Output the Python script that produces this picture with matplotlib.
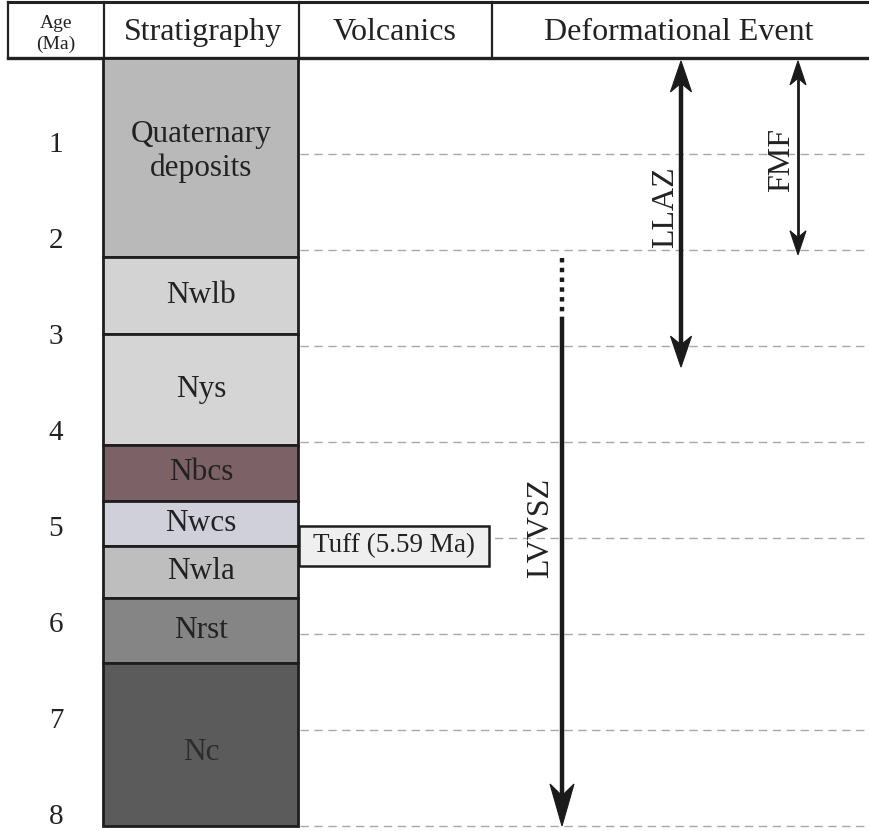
import matplotlib
matplotlib.use("Agg")
import matplotlib.pyplot as plt
from matplotlib.patches import Polygon, Rectangle

plt.rcParams["font.family"] = ["Liberation Serif", "DejaVu Serif"]

# age axis ticks (Ma)
age_ticks = [1, 2, 3, 4, 5, 6, 7, 8]

# stratigraphic units, top and base ages (Ma)
units = ["Quaternary\ndeposits", "Nwlb", "Nys", "Nbcs", "Nwcs", "Nwla", "Nrst", "Nc"]
unit_top = [0.00, 2.07, 2.87, 4.03, 4.61, 5.08, 5.62, 6.30]
unit_base = [2.07, 2.87, 4.03, 4.61, 5.08, 5.62, 6.30, 8.00]
unit_colors = ["#b9b9b9", "#d3d3d3", "#d5d5d5", "#7c6267", "#cfd0da",
               "#bebebe", "#858585", "#5b5b5b"]

# volcanics
tuff_label = "Tuff (5.59 Ma)"
tuff_top, tuff_base = 4.875, 5.29

# deformational events: name, start, end (Ma)
events = ["LLAZ", "FMF", "LVVSZ"]
event_start = [0.03, 0.03, 2.72]
event_end = [3.22, 2.05, 8.00]
lvvsz_dotted = (2.08, 2.72)

# layout (pixels across, Ma down)
W, H = 870, 831
y0, ppm = 58.0, 96.0  # pixel row of age 0, pixels per Ma


def px_to_age(p):
    return (p - y0) / ppm


fig = plt.figure(figsize=(W / 100, H / 100), dpi=100)
ax = fig.add_axes([0, 0, 1, 1])
ax.set_xlim(0, W)
ax.set_ylim(px_to_age(H), px_to_age(0))
ax.axis("off")

txt = "#222222"

# header
h_top, h_bot = px_to_age(2.5), 0.0
col_x = [8, 104, 299, 492, W]
ax.plot([8, W], [h_top, h_top], color="#222", lw=2.2)
ax.plot([8, W], [h_bot, h_bot], color="#222", lw=2.4)
for x in col_x[:-1]:
    ax.plot([x, x], [h_top, h_bot], color="#222", lw=1.6)
hy = px_to_age(33)
ax.text(56, px_to_age(34), "Age\n(Ma)", ha="center", va="center", fontsize=14,
        linespacing=1.3, color=txt)
ax.text(203, hy, "Stratigraphy", ha="center", va="center", fontsize=23, color=txt)
ax.text(395, hy, "Volcanics", ha="center", va="center", fontsize=23, color=txt)
ax.text(679, hy, "Deformational Event", ha="center", va="center", fontsize=23,
        color=txt)

# dashed age lines and tick labels
for a in age_ticks:
    ax.plot([300, W], [a, a], color="#a8a8a8", lw=1.0, ls=(0, (6, 4)), zorder=1)
    ax.text(56, a - 0.09, str(a), ha="center", va="center", fontsize=21, color=txt)

# stratigraphic column
heights = [b - t for t, b in zip(unit_top, unit_base)]
ax.bar([201] * len(units), heights, bottom=unit_top, width=195,
       color=unit_colors, edgecolor="#1e1e1e", linewidth=2, zorder=2)
for name, t, b, c in zip(units, unit_top, unit_base, unit_colors):
    mid = (t + b) / 2
    if name.startswith("Quaternary"):
        mid = 0.97
    if name == "Nc":
        mid = mid + 0.08
    ax.text(201, mid, name, ha="center", va="center", fontsize=22.5,
            color="#2c2c2c" if name == "Nc" else txt, linespacing=1.2, zorder=3)

# tuff box
ax.add_patch(Rectangle((299, tuff_top), 190, tuff_base - tuff_top,
                       facecolor="#efefef", edgecolor="#1e1e1e", lw=1.8, zorder=3))
ax.text(394, (tuff_top + tuff_base) / 2, tuff_label, ha="center", va="center",
        fontsize=19.5, color=txt, zorder=4)


def head(x, tip, direction, length, width):
    L = length / ppm
    pts = [(x, tip), (x - width / 2, tip + direction * L),
           (x, tip + direction * 0.72 * L), (x + width / 2, tip + direction * L)]
    ax.add_patch(Polygon(pts, closed=True, facecolor="#1a1a1a",
                         edgecolor="#1a1a1a", lw=0.8, zorder=5))


ev_x = {"LLAZ": 681, "FMF": 798, "LVVSZ": 562}
ev_lw = {"LLAZ": 3.2, "FMF": 2.0, "LVVSZ": 3.2}
for name, s, e in zip(events, event_start, event_end):
    x = ev_x[name]
    if name == "LVVSZ":
        ax.plot([x, x], [s, e - 30 / ppm], color="#1a1a1a", lw=ev_lw[name],
                solid_capstyle="butt", zorder=4)
        ax.plot([x, x], list(lvvsz_dotted), color="#1a1a1a", lw=3.2,
                ls=(0, (1, 1.2)), dash_capstyle="butt", zorder=4)
        head(x, e, -1, 42, 24)
    elif name == "LLAZ":
        ax.plot([x, x], [s + 20 / ppm, e - 20 / ppm], color="#1a1a1a",
                lw=ev_lw[name], zorder=4)
        head(x, s, 1, 31, 21)
        head(x, e, -1, 31, 21)
    else:
        ax.plot([x, x], [s + 15 / ppm, e - 15 / ppm], color="#1a1a1a",
                lw=ev_lw[name], zorder=4)
        head(x, s, 1, 24, 16)
        head(x, e, -1, 24, 16)

ax.text(666, 1.55, "LLAZ", rotation=90, ha="center", va="center", fontsize=23,
        color=txt)
ax.text(782, 1.06, "FMF", rotation=90, ha="center", va="center", fontsize=23,
        color=txt)
ax.text(541, 4.89, "LVVSZ", rotation=90, ha="center", va="center", fontsize=23,
        color=txt)

fig.savefig("out.png", dpi=100, facecolor="white")
